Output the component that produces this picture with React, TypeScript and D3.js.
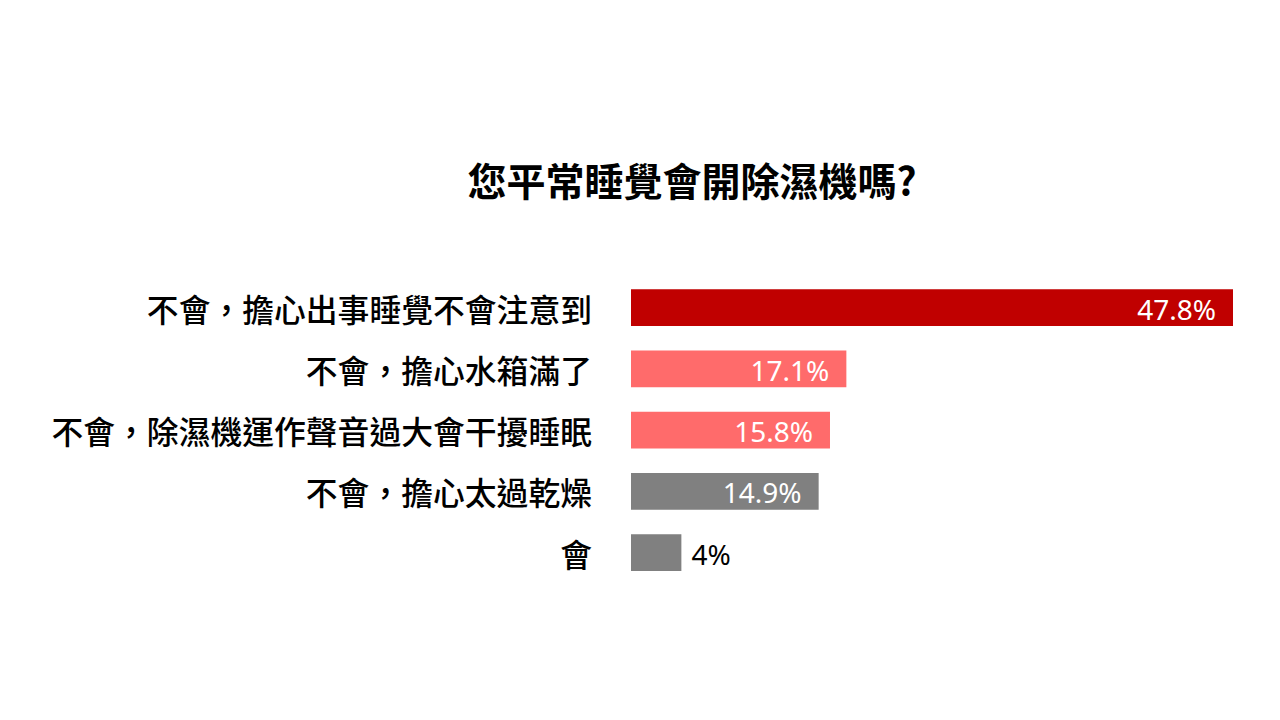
import * as d3 from 'd3';

const CATEGORIES: string[] = [
  '不會，擔心出事睡覺不會注意到',
  '不會，擔心水箱滿了',
  '不會，除濕機運作聲音過大會干擾睡眠',
  '不會，擔心太過乾燥',
  '會',
];

const VALUES: number[] = [47.8, 17.1, 15.8, 14.9, 4];

const VALUE_LABELS: string[] = ['47.8%', '17.1%', '15.8%', '14.9%', '4%'];

const COLORS: string[] = ['#C00000', '#FF6B6B', '#FF6B6B', '#808080', '#808080'];

const TITLE = '您平常睡覺會開除濕機嗎?';

const CJK = '"Noto Sans CJK TC", "Noto Sans CJK SC", sans-serif';
const NUM = '"Noto Sans", "Open Sans", sans-serif';

export default function App() {
  const width = 1280;
  const height = 720;

  const x = d3.scaleLinear()
    .domain([0, d3.max(VALUES) ?? 0])
    .range([631, 1233]);

  const y = d3.scaleBand<string>()
    .domain(CATEGORIES)
    .range([277, 583.25])
    .paddingInner(0.4)
    .paddingOuter(0.2);

  return (
    <svg
      width={width}
      height={height}
      style={{ position: 'absolute', left: 0, top: 0, display: 'block', background: '#fff' }}
    >
      {/* Title */}
      <text
        x={692} y={179}
        textAnchor="middle" dominantBaseline="central"
        fontFamily={CJK} fontSize={39} fontWeight={700}
        fill="#000"
      >
        {TITLE}
      </text>

      {CATEGORIES.map((cat, i) => {
        const y0 = y(cat) ?? 0;
        const cy = y0 + y.bandwidth() / 2;
        const w = x(VALUES[i]) - x(0);
        const inside = w > 90;
        return (
          <g key={cat}>
            {/* Category label */}
            <text
              x={592} y={cy}
              textAnchor="end" dominantBaseline="central"
              fontFamily={CJK} fontSize={31.8} fontWeight={500}
              fill="#000"
            >
              {cat}
            </text>

            {/* Bar */}
            <rect
              x={x(0)} y={y0}
              width={w} height={y.bandwidth()}
              fill={COLORS[i]}
            />

            {/* Value label */}
            <text
              x={inside ? x(VALUES[i]) - 17 : x(VALUES[i]) + 10}
              y={cy + 1}
              textAnchor={inside ? 'end' : 'start'}
              dominantBaseline="central"
              fontFamily={NUM} fontSize={28} fontWeight={400}
              fill={inside ? '#fff' : '#000'}
            >
              {VALUE_LABELS[i]}
            </text>
          </g>
        );
      })}
    </svg>
  );
}
